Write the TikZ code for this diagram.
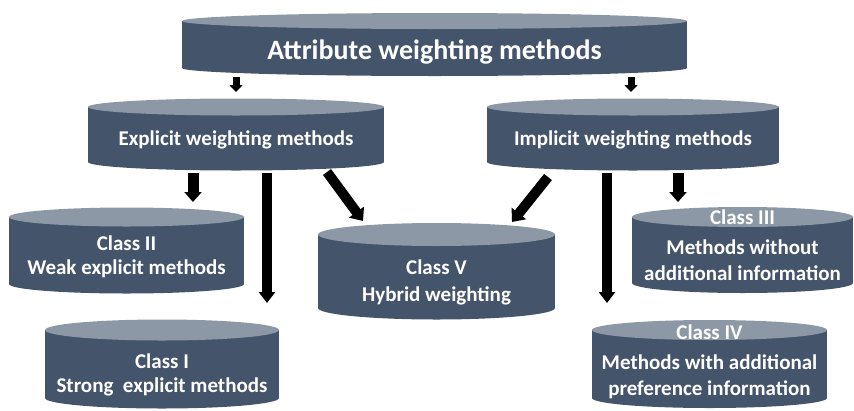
\documentclass[tikz,border=0pt]{standalone}
\usepackage{fontspec}
\setmainfont{Carlito}
\usetikzlibrary{arrows.meta}
\definecolor{bodyc}{HTML}{44546A}
\definecolor{capc}{HTML}{8D98A7}
% #1 cx, #2 y top (side), #3 y bottom (side), #4 half width, #5 ellipse half height
\newcommand\cylbody[5]{%
  \fill[bodyc] ({#1-#4},#2) rectangle ({#1+#4},#3);
  \fill[bodyc] (#1,#3) ellipse[x radius=#4pt, y radius=#5pt];
  \fill[capc] (#1,#2) ellipse[x radius=#4pt, y radius=#5pt];
}
\tikzset{
  lab/.style={text=white, font=\bfseries\fontsize{21}{24}\selectfont, align=center, inner sep=0pt},
  arrsmall/.style={line width=7pt, -{Triangle[width=13pt,length=7pt]}},
  arrmid/.style={line width=11pt, -{Triangle[width=17pt,length=10pt]}},
  arrlong/.style={line width=10pt, -{Triangle[width=16pt,length=11pt]}},
  arrdiag/.style={line width=10pt, -{Triangle[width=18pt,length=11pt]}},
}
\begin{document}
\begin{tikzpicture}[x=1pt,y=-1pt]
\useasboundingbox (0,0) rectangle (854,410);
% cylinders
\cylbody{434.5}{21}{68}{252.5}{8}
\cylbody{236}{107}{162}{148}{8.5}
\cylbody{633}{107}{162}{146}{8.5}
\cylbody{126.5}{217}{284}{117.5}{9.5}
\cylbody{162}{330}{398}{117}{10.5}
\cylbody{436.5}{234.5}{308}{118.5}{11.5}
\cylbody{742.5}{217}{283}{110.5}{10}
\cylbody{709.5}{330}{398}{117.5}{10}
% labels
\node[lab, font=\bfseries\fontsize{28}{32}\selectfont] (top) at (434.5,52) {Attribute weighting methods};
\node[lab] (expl) at (236,140) {Explicit weighting methods};
\node[lab] (impl) at (633,140) {Implicit weighting methods};
\node[lab] (c2) at (126.5,257) {Class II\\Weak explicit methods};
\node[lab] (c1) at (162,375) {Class I\\Strong\ \ explicit methods};
\node[lab, font=\bfseries\fontsize{21}{27}\selectfont] (c5) at (436.5,282) {Class V\\Hybrid weighting};
\node[lab] (c3t) at (742.5,217) {Class III};
\node[lab, font=\bfseries\fontsize{21}{26}\selectfont] (c3) at (742.5,260) {Methods without\\additional information};
\node[lab] (c4t) at (709.5,332) {Class IV};
\node[lab, font=\bfseries\fontsize{21}{26}\selectfont] (c4) at (709.5,377) {Methods with additional\\preference information};
% arrow end points
\coordinate (a1s) at (236,77);  \coordinate (a1e) at (236,92);
\coordinate (a2s) at (631,77);  \coordinate (a2e) at (631,92);
\coordinate (a3s) at (193,173); \coordinate (a3e) at (193,202);
\coordinate (a4s) at (267,173); \coordinate (a4e) at (267,303);
\coordinate (a5s) at (327,172); \coordinate (a5e) at (363,221);
\coordinate (a6s) at (548,177); \coordinate (a6e) at (512,222);
\coordinate (a7s) at (607,173); \coordinate (a7e) at (607,303);
\coordinate (a8s) at (678,173); \coordinate (a8e) at (678,202);
\draw[arrsmall] (a1s) -- (a1e);
\draw[arrsmall] (a2s) -- (a2e);
\draw[arrmid] (a3s) -- (a3e);
\draw[arrlong] (a4s) -- (a4e);
\draw[arrdiag] (a5s) -- (a5e);
\draw[arrdiag] (a6s) -- (a6e);
\draw[arrlong] (a7s) -- (a7e);
\draw[arrmid] (a8s) -- (a8e);
\end{tikzpicture}
\end{document}
